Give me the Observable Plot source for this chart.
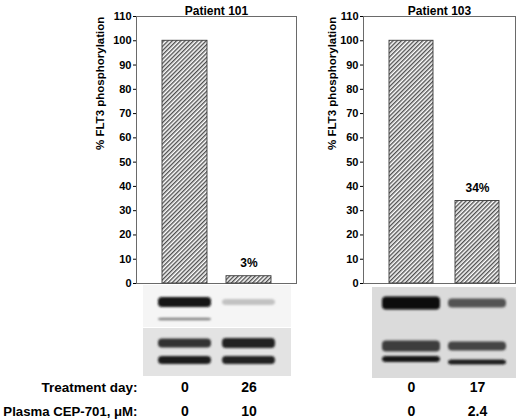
<!DOCTYPE html>
<html>
<head>
<meta charset="utf-8">
<script src="https://cdn.jsdelivr.net/npm/d3@7"></script>
<script src="https://cdn.jsdelivr.net/npm/@observablehq/plot@0.6"></script>
<style>
  html, body { margin: 0; padding: 0; background: #fff; }
  #fig { position: relative; width: 520px; height: 420px; overflow: hidden; background: #fff; }
  #fig svg { position: absolute; left: 0; overflow: visible; }
</style>
</head>
<body>
<div id="fig"></div>
<script>
// ---------- data ----------
const patients = ["Patient 101", "Patient 103"];
const treatmentDay101 = ["0", "26"];
const treatmentDay103 = ["0", "17"];
const plasmaCEP101 = ["0", "10"];
const plasmaCEP103 = ["0", "2.4"];
const flt3Phos101 = [100, 3];
const flt3Phos103 = [100, 34];
const yTicks = [0, 10, 20, 30, 40, 50, 60, 70, 80, 90, 100, 110];
const yLabel = "% FLT3 phosphorylation";
const rowLabels = ["Treatment day:", "Plasma CEP-701, μM:"];

// western blot strips (lane = treatment day, migration from strip top, band thickness, darkness 0..1)
const blotBg101 = [
  {top: 0, bottom: 42, dark: 0.04},
  {top: 43, bottom: 91, dark: 0.11}
];
const blotBands101 = [
  {lane: "0",  pos: 17, thick: 10, dark: 0.93},
  {lane: "26", pos: 17, thick: 6,  dark: 0.24},
  {lane: "0",  pos: 34, thick: 2.5, dark: 0.5},
  {lane: "0",  pos: 58, thick: 9,  dark: 0.8},
  {lane: "26", pos: 58, thick: 10, dark: 0.86},
  {lane: "0",  pos: 75, thick: 8,  dark: 0.88},
  {lane: "26", pos: 75, thick: 8,  dark: 0.87}
];
const blotBg103 = [
  {top: 2, bottom: 93, dark: 0.14}
];
const blotBands103 = [
  {lane: "0",  pos: 18, thick: 13, dark: 0.96},
  {lane: "17", pos: 18, thick: 9,  dark: 0.68},
  {lane: "0",  pos: 61, thick: 11, dark: 0.76},
  {lane: "17", pos: 61, thick: 9,  dark: 0.73},
  {lane: "0",  pos: 74, thick: 6,  dark: 0.93},
  {lane: "17", pos: 77, thick: 5,  dark: 0.88}
];

// ---------- layout ----------
const FONT = "'Liberation Sans', Arial, Helvetica, sans-serif";
const panels = [
  {title: patients[0], days: treatmentDay101, cep: plasmaCEP101, values: flt3Phos101,
   bg: blotBg101, bands: blotBands101, ml: 136, mr: 224,
   x: {paddingInner: 0.3, paddingOuter: 0.4}, labelDx: -36, bandInset: -4, bgInset: [7, 5], rowLabels: true},
  {title: patients[1], days: treatmentDay103, cep: plasmaCEP103, values: flt3Phos103,
   bg: blotBg103, bands: blotBands103, ml: 363, mr: 5,
   x: {range: [369, 520], paddingInner: 0.33, paddingOuter: 0.3}, labelDx: -31, bandInset: -7, bgInset: [9, -1], rowLabels: false}
];

const fig = document.getElementById("fig");

panels.forEach((p, i) => {
  const data = p.days.map((d, j) => ({day: d, value: p.values[j]}));
  const chart = Plot.plot({
    width: 520, height: 292,
    marginLeft: p.ml, marginRight: p.mr, marginTop: 16, marginBottom: 9,
    style: {fontFamily: FONT, fontSize: "11px", fontWeight: "bold", color: "#000", background: "transparent", overflow: "visible"},
    x: {domain: p.days, axis: null, ...p.x},
    y: {domain: [0, 110], ticks: yTicks, tickSize: 3, tickPadding: 2, label: null},
    marks: [
      Plot.frame({stroke: "#6a6a6a", strokeWidth: 1}),
      Plot.barY(data, {x: "day", y: "value", fill: `url(#hatch${i})`, stroke: "#3a3a3a", strokeWidth: 0.9}),
      Plot.text(data, {filter: (d, j) => j > 0, x: "day", y: "value", text: d => `${d.value}%`, dy: -13, fontSize: 12}),
      Plot.text([p.title], {frameAnchor: "top", dy: -10, fontSize: 12}),
      Plot.text([yLabel], {frameAnchor: "left", dx: p.labelDx, rotate: -90, fontSize: 11.5})
    ]
  });
  const defs = d3.select(chart).insert("defs", ":first-child");
  const pat = defs.append("pattern")
    .attr("id", `hatch${i}`).attr("patternUnits", "userSpaceOnUse")
    .attr("width", 3).attr("height", 3).attr("patternTransform", "rotate(45)");
  pat.append("rect").attr("width", 3).attr("height", 3).attr("fill", "#fff");
  pat.append("line").attr("x1", 0.7).attr("y1", 0).attr("x2", 0.7).attr("y2", 3)
    .attr("stroke", "#505050").attr("stroke-width", 1.4);
  chart.style.top = "0px";
  fig.appendChild(chart);

  // blot strip + row values
  const rows = p.days.map((d, j) => ({lane: d, day: d, cep: p.cep[j]}));
  const textMarks = [
    Plot.text(rows, {x: "lane", text: "day", frameAnchor: "bottom", dy: -29, fontSize: 14}),
    Plot.text(rows, {x: "lane", text: "cep", frameAnchor: "bottom", dy: -5, fontSize: 14})
  ];
  if (p.rowLabels) {
    textMarks.push(
      Plot.text([rowLabels[0]], {frameAnchor: "bottom-left", textAnchor: "end", dx: 1, dy: -29, fontSize: 13.5}),
      Plot.text([rowLabels[1]], {frameAnchor: "bottom-left", textAnchor: "end", dx: 1, dy: -5, fontSize: 13.2})
    );
  }
  const blot = Plot.plot({
    width: 520, height: 135,
    marginLeft: p.ml, marginRight: p.mr, marginTop: 0, marginBottom: 0,
    style: {fontFamily: FONT, fontSize: "14px", fontWeight: "bold", color: "#000", background: "transparent", overflow: "visible"},
    x: {domain: p.days, axis: null, ...p.x},
    y: {domain: [0, 135], reverse: true, axis: null},
    color: {type: "linear", domain: [0, 1], range: ["#ffffff", "#000000"]},
    marks: [
      Plot.rect(p.bg, {y1: "top", y2: "bottom", fill: "dark", insetLeft: p.bgInset[0], insetRight: p.bgInset[1]}),
      Plot.barY(p.bands, {x: "lane", y1: d => d.pos - d.thick / 2, y2: d => d.pos + d.thick / 2,
        fill: "dark", insetLeft: p.bandInset, insetRight: p.bandInset, rx: 4}),
      ...textMarks
    ]
  });
  const bdefs = d3.select(blot).insert("defs", ":first-child");
  bdefs.append("filter").attr("id", `blur${i}`)
    .attr("x", "-10%").attr("y", "-30%").attr("width", "120%").attr("height", "160%")
    .append("feGaussianBlur").attr("stdDeviation", 1.3);
  d3.select(blot).selectAll('g[aria-label="bar"]').attr("filter", `url(#blur${i})`);
  blot.style.top = "285px";
  fig.appendChild(blot);
});
</script>
</body>
</html>
